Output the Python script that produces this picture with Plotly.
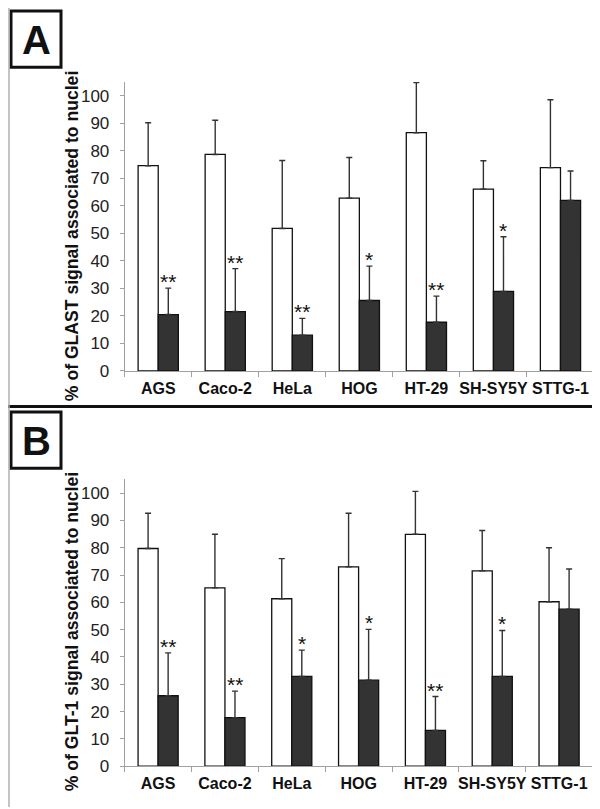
import plotly.graph_objects as go

# ---------------- data ----------------
categories = ["AGS", "Caco-2", "HeLa", "HOG", "HT-29", "SH-SY5Y", "STTG-1"]
y_ticks = [0, 10, 20, 30, 40, 50, 60, 70, 80, 90, 100]

glast_ctrl = [74.6, 78.7, 51.8, 62.8, 86.6, 66.1, 73.9]
glast_ctrl_err = [15.6, 12.4, 24.7, 14.8, 18.2, 10.3, 24.7]
glast_treat = [20.5, 21.6, 13.0, 25.6, 17.7, 28.9, 62.0]
glast_treat_err = [9.6, 15.6, 6.1, 12.5, 9.5, 19.9, 10.7]
glast_sig = ["**", "**", "**", "*", "**", "*", ""]

glt1_ctrl = [79.7, 65.3, 61.3, 73.0, 84.9, 71.5, 60.2]
glt1_ctrl_err = [12.9, 19.6, 14.7, 19.6, 15.7, 14.8, 19.8]
glt1_treat = [25.8, 17.8, 32.9, 31.5, 13.1, 32.9, 57.5]
glt1_treat_err = [15.7, 9.7, 9.6, 18.6, 12.4, 16.8, 14.7]
glt1_sig = ["**", "**", "*", "*", "**", "*", ""]

panel_letters = ["A", "B"]
y_titles = ["% of GLAST signal associated to nuclei",
            "% of GLT-1 signal associated to nuclei"]

# ---------------- layout helpers ----------------
W, H = 600, 809
FONT = "Liberation Sans, Arial, sans-serif"


def px(x):
    return x / W


def py(y):
    return (H - y) / H


fig = go.Figure()

panels = [
    dict(ctrl=glast_ctrl, ce=glast_ctrl_err, tr=glast_treat, te=glast_treat_err,
         sig=glast_sig, xa="x", ya="y", top=75.0, bottom=367.5, right=586.0,
         box=(3, 3, 53, 60), title_y=231),
    dict(ctrl=glt1_ctrl, ce=glt1_ctrl_err, tr=glt1_treat, te=glt1_treat_err,
         sig=glt1_sig, xa="x2", ya="y2", top=477.3, bottom=767.7, right=584.5,
         box=(3, 409, 53, 466), title_y=632),
]

annotations = []
shapes = []

for i, p in enumerate(panels):
    fig.add_trace(go.Bar(
        x=categories, y=p["ctrl"], xaxis=p["xa"], yaxis=p["ya"],
        marker=dict(color="#ffffff", line=dict(color="#111111", width=1.3)),
        error_y=dict(type="data", symmetric=False, array=p["ce"],
                     arrayminus=[0] * len(categories),
                     color="#333333", thickness=1.4, width=3),
        showlegend=False,
    ))
    fig.add_trace(go.Bar(
        x=categories, y=p["tr"], xaxis=p["xa"], yaxis=p["ya"],
        marker=dict(color="#333333", line=dict(color="#111111", width=1.3)),
        error_y=dict(type="data", symmetric=False, array=p["te"],
                     arrayminus=[0] * len(categories),
                     color="#333333", thickness=1.4, width=3),
        showlegend=False,
    ))
    suffix = "" if i == 0 else "2"
    fig.update_layout(**{
        "xaxis" + suffix: dict(
            domain=[px(116.7), px(p["right"])], anchor="y" + suffix,
            showline=True, linecolor="#a0a0a0", linewidth=1,
            ticks="outside", tickson="boundaries", ticklen=5, tickcolor="#a0a0a0",
            tickangle=0, ticklabelstandoff=3,
            tickfont=dict(family=FONT, size=16, color="#111111"),
            tickprefix="<b>", ticksuffix="</b>",
            showgrid=False, zeroline=False, fixedrange=True,
        ),
        "yaxis" + suffix: dict(
            domain=[py(p["bottom"]), py(p["top"])], anchor="x" + suffix,
            range=[0, 105], tickvals=y_ticks,
            showline=True, linecolor="#a0a0a0", linewidth=1,
            ticks="outside", ticklen=4, tickcolor="#a0a0a0",
            ticklabelstandoff=7,
            tickfont=dict(family=FONT, size=17, color="#222222"),
            showgrid=False, zeroline=False, fixedrange=True,
        ),
    })
    # significance stars
    for c, v, e, s in zip(categories, p["tr"], p["te"], p["sig"]):
        if s:
            annotations.append(dict(
                x=c, y=v + e, xref=p["xa"], yref=p["ya"], text=s,
                showarrow=False, xanchor="center", yanchor="bottom",
                xshift=10, yshift=-7,
                font=dict(family=FONT, size=21, color="#111111"),
            ))
    # y-axis title
    annotations.append(dict(
        x=px(64), y=py(p["title_y"]), xref="paper", yref="paper",
        text="<b>" + y_titles[i] + "</b>", textangle=-90, showarrow=False,
        xanchor="center", yanchor="middle",
        font=dict(family=FONT, size=17.6, color="#111111"),
    ))
    # panel letter box
    x0, y0, x1, y1 = p["box"]
    shapes.append(dict(type="rect", xref="paper", yref="paper",
                       x0=px(x0), x1=px(x1), y0=py(y1), y1=py(y0),
                       line=dict(color="#111111", width=3),
                       fillcolor="#ffffff"))
    annotations.append(dict(
        x=px((x0 + x1) / 2), y=py((y0 + y1) / 2 + 1), xref="paper", yref="paper",
        text="<b>" + panel_letters[i] + "</b>", showarrow=False,
        xanchor="center", yanchor="middle",
        font=dict(family=FONT, size=40, color="#111111"),
    ))

# divider between panels
shapes.append(dict(type="line", xref="paper", yref="paper",
                   x0=0, x1=1, y0=py(403.5), y1=py(403.5),
                   line=dict(color="#111111", width=3)))
# light outer frame (left/right)
for xx in (1, 598.5):
    shapes.append(dict(type="line", xref="paper", yref="paper",
                       x0=px(xx), x1=px(xx), y0=0, y1=1,
                       line=dict(color="#b0b0b0", width=1.5)))

fig.update_layout(
    width=W, height=H,
    margin=dict(l=0, r=0, t=0, b=0),
    paper_bgcolor="#ffffff", plot_bgcolor="#ffffff",
    barmode="group", bargap=0.40, bargroupgap=0,
    annotations=annotations, shapes=shapes,
    font=dict(family=FONT),
)

fig.write_html("out.html")
